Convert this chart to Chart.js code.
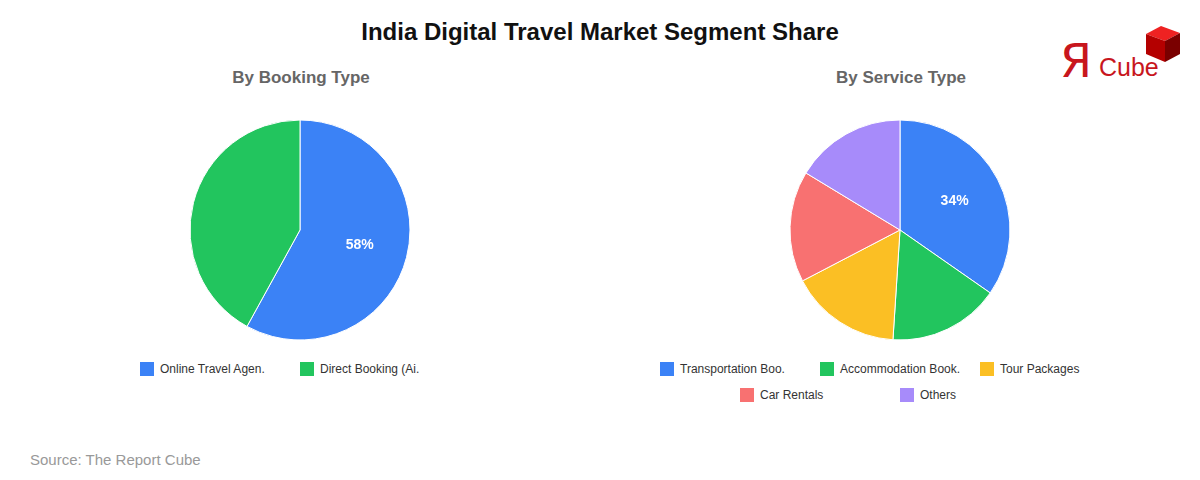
<!DOCTYPE html>
<html>
<head>
<meta charset="utf-8">
<script src="https://cdn.jsdelivr.net/npm/chart.js@4"></script>
<style>
  body { margin: 0; width: 1200px; height: 480px; background: #fff; font-family: "Liberation Sans", Arial, sans-serif; position: relative; overflow: hidden; }
  h1 { position: absolute; top: 18px; left: 0; width: 1200px; text-align: center; margin: 0; font-size: 24px; font-weight: bold; color: #111; }
  .sub { position: absolute; top: 68px; font-size: 17px; font-weight: bold; color: #666; text-align: center; width: 400px; }
  .box { position: absolute; }
  .legend { position: absolute; display: flex; flex-wrap: wrap; justify-content: center; font-size: 12px; color: #333; }
  .legend .item { width: 160px; height: 26px; display: flex; align-items: flex-start; }
  .legend .sw { width: 14px; height: 14px; margin-right: 6px; flex: none; }
  .legend .tx { line-height: 14px; }
  .source { position: absolute; left: 30px; top: 451px; font-size: 15px; color: #999; }
  .logo { position: absolute; left: 1060px; top: 24px; width: 125px; height: 60px; }
  .logo .r { position: absolute; left: 0; top: 14px; font-size: 46px; line-height: 46px; color: #c8161d; font-family: "DejaVu Sans", sans-serif; }
  .logo .c { position: absolute; left: 39px; top: 31px; font-size: 25px; line-height: 25px; color: #c8161d; }
</style>
</head>
<body>
<h1>India Digital Travel Market Segment Share</h1>
<div class="sub" style="left:101px">By Booking Type</div>
<div class="sub" style="left:701px">By Service Type</div>
<div class="box" style="left:150px;top:119px;width:300px;height:222px"><canvas id="c1"></canvas></div>
<div class="box" style="left:750px;top:119px;width:300px;height:222px"><canvas id="c2"></canvas></div>
<div class="legend" id="l1" style="left:60px;top:362px;width:480px"></div>
<div class="legend" id="l2" style="left:660px;top:362px;width:480px"></div>
<div class="logo">
  <span class="r">Я</span><span class="c">Cube</span>
  <svg style="position:absolute;left:84px;top:0" width="38" height="40" viewBox="0 0 38 40">
    <polygon points="17,2 36,9 21,17 2,10" fill="#e22"/>
    <polygon points="2,10 21,17 21,38 2,30" fill="#b40000"/>
    <polygon points="21,17 36,9 36,30 21,38" fill="#7a0000"/>
  </svg>
</div>
<div class="source">Source: The Report Cube</div>
<script>
const bookingLabels = ["Online Travel Agen.", "Direct Booking (Ai."];
const bookingValues = [58, 42];
const bookingColors = ["#3b82f6", "#22c55e"];

const serviceLabels = ["Transportation Boo.", "Accommodation Book.", "Tour Packages", "Car Rentals", "Others"];
const serviceValues = [34, 16, 16, 16, 16];
const serviceColors = ["#3b82f6", "#22c55e", "#fbbf24", "#f87171", "#a78bfa"];

// Show the value on the largest slice only
const bigLabel = {
  id: "bigLabel",
  afterDatasetsDraw(chart) {
    const ctx = chart.ctx;
    const data = chart.data.datasets[0].data;
    const max = Math.max(...data);
    chart.getDatasetMeta(0).data.forEach((arc, i) => {
      if (data[i] !== max) return;
      const mid = (arc.startAngle + arc.endAngle) / 2;
      const r = arc.outerRadius * 0.56;
      ctx.save();
      ctx.fillStyle = "#fff";
      ctx.font = "bold 14px 'Liberation Sans', Arial";
      ctx.textAlign = "center";
      ctx.textBaseline = "middle";
      ctx.fillText(data[i] + "%", arc.x + Math.cos(mid) * r, arc.y + Math.sin(mid) * r);
      ctx.restore();
    });
  },
};

function makePie(id, legendId, labels, values, colors) {
  const legend = document.getElementById(legendId);
  labels.forEach((label, i) => {
    legend.insertAdjacentHTML("beforeend",
      `<div class="item"><span class="sw" style="background:${colors[i]}"></span><span class="tx">${label}</span></div>`);
  });
  return new Chart(document.getElementById(id), {
    type: "pie",
    data: {
      labels: labels,
      datasets: [{ data: values, backgroundColor: colors, borderColor: "#fff", borderWidth: 1, radius: 110 }],
    },
    options: {
      responsive: true,
      maintainAspectRatio: false,
      animation: false,
      plugins: {
        tooltip: { enabled: false },
        legend: { display: false },
      },
    },
    plugins: [bigLabel],
  });
}

makePie("c1", "l1", bookingLabels, bookingValues, bookingColors);
makePie("c2", "l2", serviceLabels, serviceValues, serviceColors);
</script>
</body>
</html>
